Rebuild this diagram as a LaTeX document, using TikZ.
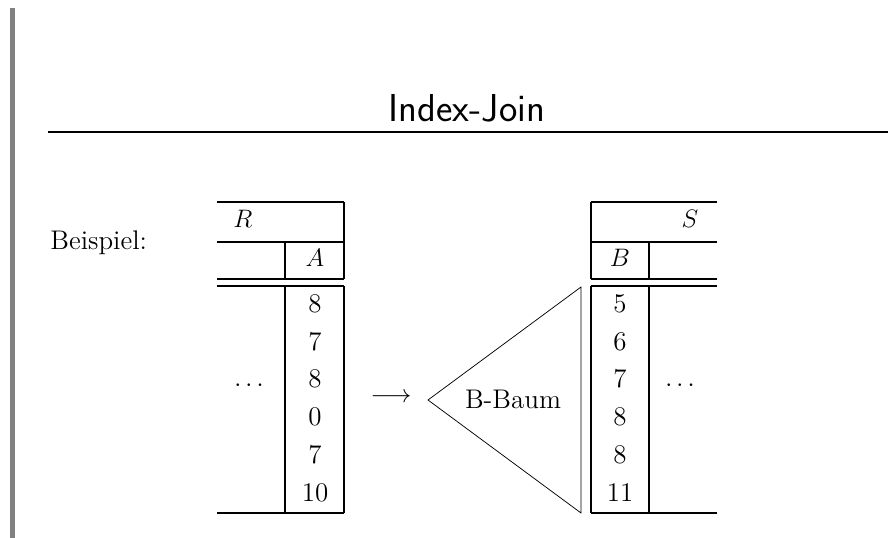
\documentclass[tikz,border=0pt]{standalone}
\usetikzlibrary{positioning}

\tikzset{cell/.style={font=\fontsize{12.8}{15}\selectfont,anchor=base,inner sep=0cm},
head/.style={font=\fontsize{12.8}{15}\selectfont,anchor=base,inner sep=0cm},
body text/.style={font=\fontsize{12.8}{15}\selectfont,anchor=base,inner sep=0cm},
title text/.style={font=\fontsize{18.5}{22}\selectfont\sffamily,anchor=base,inner sep=0cm},
table line/.style={line width=0.55pt},
tree line/.style={line width=0.35pt}}

\begin{document}
\begin{tikzpicture}[x=0.0167cm,y=-0.0167cm]
\useasboundingbox (0,0) rectangle (888,538);

%% side bar and title
\fill [gray] (10,8) rectangle (15,538);
\coordinate (rule w) at (48,132);
\coordinate (rule e) at (888,132);
\draw [line width=0.8pt] (rule w) -- (rule e);
\node [title text] (title) at (467,122) {Index-Join};

\node [body text,anchor=base west] (beispiel) at (50,250) {Beispiel:};

%% Coordinates of table R
\coordinate (r1w) at (217,202);
\coordinate (r1e) at (344,202);
\coordinate (r2w) at (217,242);
\coordinate (r2m) at (285,242);
\coordinate (r2e) at (344,242);
\coordinate (r3w) at (217,279);
\coordinate (r3m) at (285,279);
\coordinate (r3e) at (344,279);
\coordinate (r4w) at (217,286);
\coordinate (r4m) at (285,286);
\coordinate (r4e) at (344,286);
\coordinate (r5w) at (217,513);
\coordinate (r5m) at (285,513);
\coordinate (r5e) at (344,513);

%% Coordinates of table S
\coordinate (s1w) at (591,202);
\coordinate (s1e) at (717,202);
\coordinate (s2w) at (591,242);
\coordinate (s2m) at (649,242);
\coordinate (s2e) at (717,242);
\coordinate (s3w) at (591,279);
\coordinate (s3m) at (649,279);
\coordinate (s3e) at (717,279);
\coordinate (s4w) at (591,286);
\coordinate (s4m) at (649,286);
\coordinate (s4e) at (717,286);
\coordinate (s5w) at (591,513);
\coordinate (s5m) at (649,513);
\coordinate (s5e) at (717,513);

%% horizontal lines
\draw [table line] (r1w) -- (r1e);
\draw [table line] (r2w) -- (r2e);
\draw [table line] (r3w) -- (r3e);
\draw [table line] (r4w) -- (r4e);
\draw [table line] (r5w) -- (r5e);
\draw [table line] (s1w) -- (s1e);
\draw [table line] (s2w) -- (s2e);
\draw [table line] (s3w) -- (s3e);
\draw [table line] (s4w) -- (s4e);
\draw [table line] (s5w) -- (s5e);

%% vertical lines
\draw [table line] (r1e) -- (r3e);
\draw [table line] (r4e) -- (r5e);
\draw [table line] (r2m) -- (r3m);
\draw [table line] (r4m) -- (r5m);
\draw [table line] (s1w) -- (s3w);
\draw [table line] (s4w) -- (s5w);
\draw [table line] (s2m) -- (s3m);
\draw [table line] (s4m) -- (s5m);

%% table heads
\node [head] (rname) at (243,228) {$R$};
\node [head] (rattr) at (315,267) {$A$};
\node [head] (sname) at (690,228) {$S$};
\node [head] (sattr) at (620,267) {$B$};

%% values of A and B
\node [cell] (a1) at (315,313) {8};
\node [cell] (a2) at (315,351) {7};
\node [cell] (a3) at (315,388) {8};
\node [cell] (a4) at (315,426) {0};
\node [cell] (a5) at (315,464) {7};
\node [cell] (a6) at (315,502) {10};
\node [cell] (b1) at (620,313) {5};
\node [cell] (b2) at (620,351) {6};
\node [cell] (b3) at (620,388) {7};
\node [cell] (b4) at (620,426) {8};
\node [cell] (b5) at (620,464) {8};
\node [cell] (b6) at (620,502) {11};

\node [cell] (rdots) at (249,392) {$\cdots$};
\node [cell] (sdots) at (680,392) {$\cdots$};

%% index tree
\coordinate (apex) at (428,400);
\coordinate (tree top) at (581,287);
\coordinate (tree bottom) at (581,513);
\draw [tree line] (tree top) -- (apex) -- (tree bottom) -- cycle;
\node [body text] (baum) at (513,409) {B-Baum};
\node [body text] (arrow) at (391,403) {$\longrightarrow$};

\end{tikzpicture}
\end{document}
